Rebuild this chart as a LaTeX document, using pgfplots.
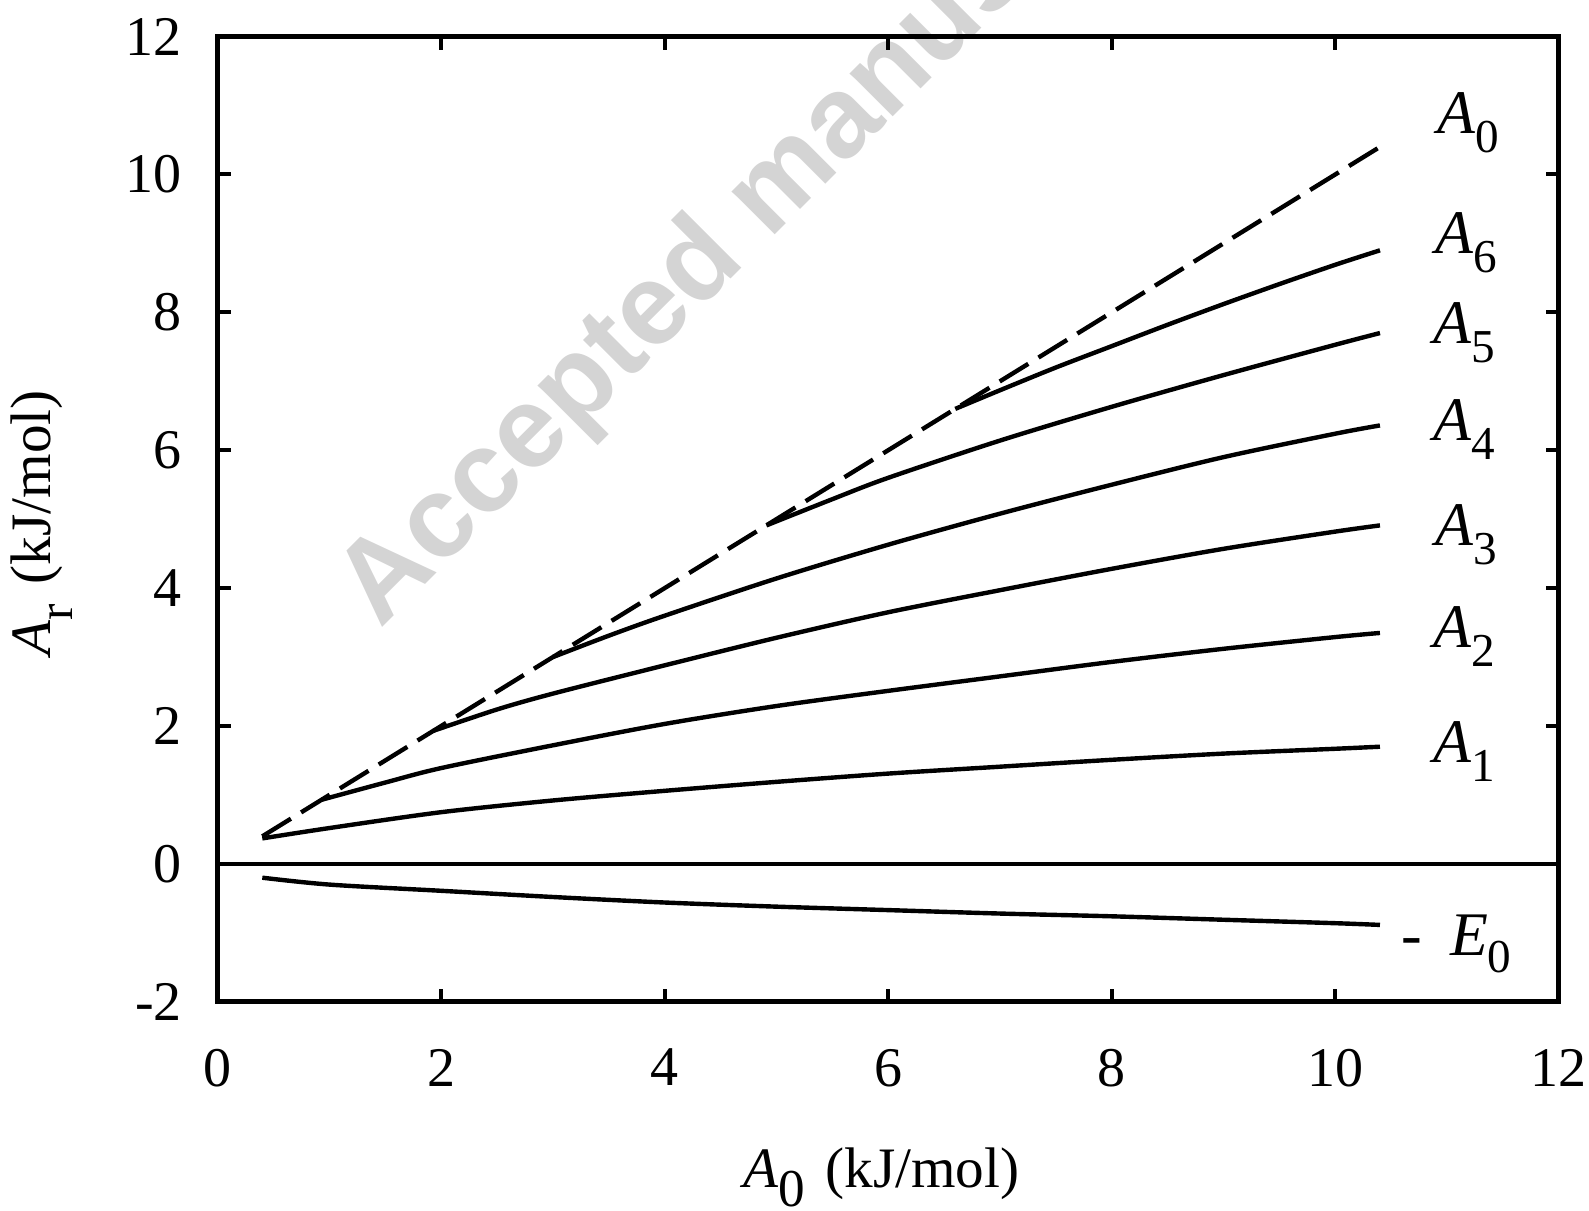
\documentclass[border=0pt]{standalone}
\usepackage{fontspec}
\setmainfont{Liberation Serif}
\setsansfont{Liberation Sans}
\usepackage{pgfplots}
\pgfplotsset{compat=1.18}

\definecolor{wmgray}{RGB}{212,212,212}

% curve label: italic A with a lowered upright index
\newcommand\curvelab[1]{\textit{A}\raisebox{-4.75pt}{\fontsize{11.8pt}{12pt}\selectfont #1}}

\pgfplotstableread{
x y
0.4 0.37
1 0.52
2 0.75
3 0.92
4 1.06
5 1.19
6 1.31
7 1.41
8 1.51
9 1.60
10 1.67
10.4 1.70
}\tabAone
\pgfplotstableread{
x y
0.93 0.93
1.5 1.18
2 1.39
3 1.72
4 2.03
5 2.29
6 2.51
7 2.72
8 2.93
9 3.12
10 3.29
10.4 3.35
}\tabAtwo
\pgfplotstableread{
x y
1.93 1.93
2.5 2.24
3 2.47
4 2.88
5 3.28
6 3.65
7 3.97
8 4.28
9 4.57
10 4.82
10.4 4.91
}\tabAthree
\pgfplotstableread{
x y
3.0 3.0
3.5 3.31
4 3.60
5 4.14
6 4.63
7 5.08
8 5.50
9 5.90
10 6.24
10.4 6.36
}\tabAfour
\pgfplotstableread{
x y
4.91 4.91
5.5 5.29
6 5.60
7 6.14
8 6.63
9 7.09
10 7.53
10.4 7.70
}\tabAfive
\pgfplotstableread{
x y
6.6 6.6
7 6.87
7.5 7.2
8 7.51
8.5 7.82
9 8.12
9.5 8.41
10 8.69
10.4 8.9
}\tabAsix
\pgfplotstableread{
x y
0.4 -0.20
1 -0.30
2 -0.39
3 -0.48
4 -0.56
5 -0.62
6 -0.67
7 -0.72
8 -0.76
9 -0.81
10 -0.86
10.4 -0.885
}\tabEzero

\begin{document}
\begin{tikzpicture}
\useasboundingbox (0,0) rectangle (397.25pt,302.75pt);
\begin{scope}
  \clip (0,0) rectangle (397.25pt,302.75pt);
  \node[rotate=45, anchor=base west, inner sep=0pt, text=wmgray,
        font=\sffamily\bfseries\fontsize{28.8pt}{30pt}\selectfont]
        at (95pt,145.25pt) {Accepted manuscript};
\end{scope}
\begin{axis}[
  at={(54.4pt,52.3pt)}, anchor=south west,
  scale only axis, width=335.3pt, height=241.3pt,
  xmin=0, xmax=12, ymin=-2, ymax=12,
  xtick={0,2,...,12}, ytick={-2,0,...,12},
  tick align=inside, major tick length=3.25pt,
  tick style={line width=1pt, black},
  axis line style={line width=1.2pt},
  clip=false,
  /pgf/number format/assume math mode=true,
  ticklabel style={font=\fontsize{14pt}{16pt}\selectfont},
  yticklabel style={anchor=east, inner sep=0pt, xshift=-8.7pt},
  xticklabel style={anchor=north, inner sep=0pt, yshift=-11.6pt},
  every axis plot/.append style={line width=1.1pt, black},
]
\draw[line width=1pt] (axis cs:0,0) -- (axis cs:12,0);
\addplot[dash pattern=on 8.4pt off 3pt] coordinates {(0.4,0.4) (10.4,10.4)};
\addplot[smooth] table {\tabAone};
\addplot[smooth] table {\tabAtwo};
\addplot[smooth] table {\tabAthree};
\addplot[smooth] table {\tabAfour};
\addplot[smooth] table {\tabAfive};
\addplot[smooth] table {\tabAsix};
\addplot[smooth] table {\tabEzero};

\begin{scope}[every node/.style={anchor=base west, inner sep=0pt,
    font=\fontsize{15.5pt}{17pt}\selectfont}]
\node at (axis cs:10.91,10.60) {\curvelab{0}};
\node at (axis cs:10.89,8.86) {\curvelab{6}};
\node at (axis cs:10.87,7.555) {\curvelab{5}};
\node at (axis cs:10.87,6.145) {\curvelab{4}};
\node at (axis cs:10.89,4.616) {\curvelab{3}};
\node at (axis cs:10.87,3.145) {\curvelab{2}};
\node at (axis cs:10.87,1.477) {\curvelab{1}};
\node at (axis cs:10.585,-1.33) {-\hspace{7pt}\textit{E}\raisebox{-4.3pt}{\fontsize{11.8pt}{12pt}\selectfont 0}};
\end{scope}
\end{axis}
% axis titles
\node[anchor=base, inner sep=0pt, font=\fontsize{14.3pt}{16pt}\selectfont]
  at (220.4pt,5.75pt)
  {\textit{A}\raisebox{-4.75pt}{\fontsize{13.3pt}{14pt}\selectfont 0}\hspace{0.35em}(kJ/mol)};
\node[anchor=base, rotate=90, inner sep=0pt, font=\fontsize{14.3pt}{16pt}\selectfont]
  at (12.5pt,172pt)
  {\textit{A}\raisebox{-5.5pt}{\fontsize{12.3pt}{13pt}\selectfont r}\hspace{0.35em}(kJ/mol)};
\end{tikzpicture}
\end{document}
